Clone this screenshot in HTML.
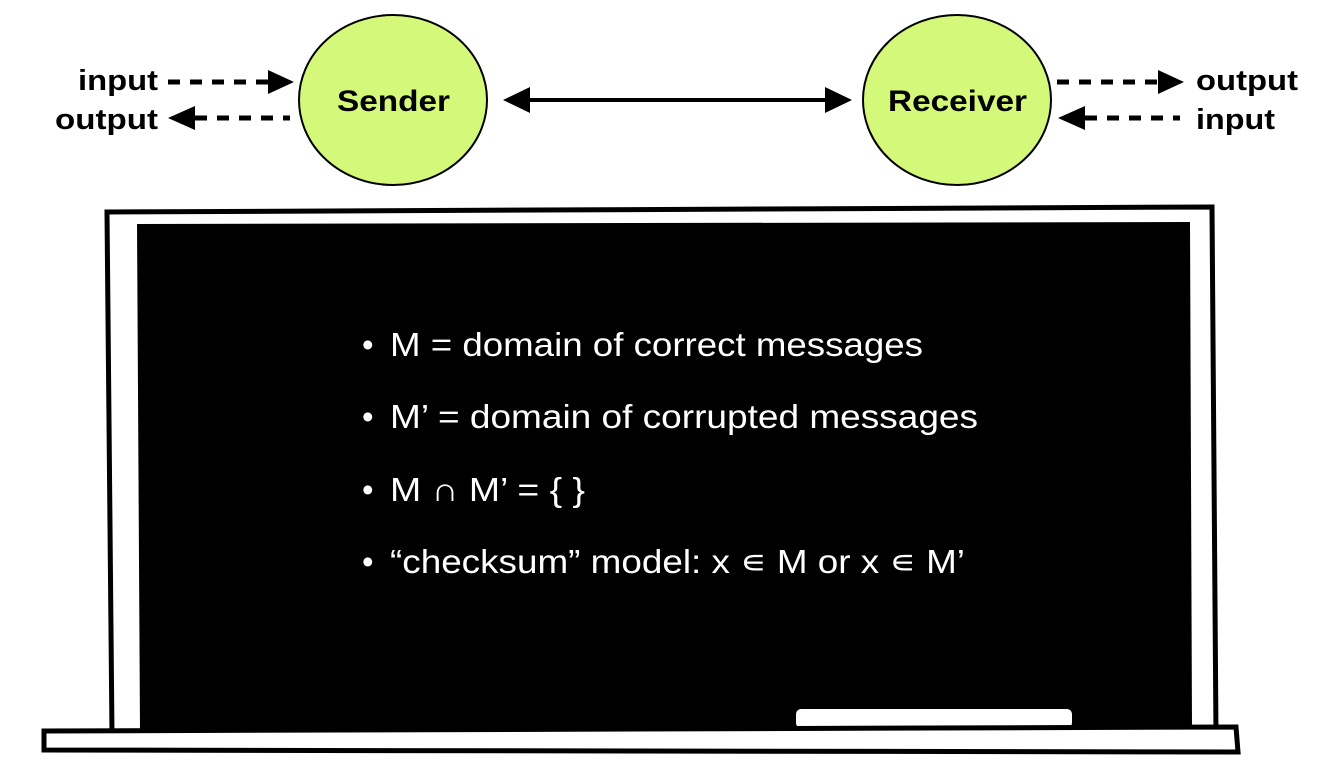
<!DOCTYPE html>
<html><head><style>
body{margin:0;width:1323px;height:777px;background:#fff;overflow:hidden;font-family:"Liberation Sans",sans-serif}
</style></head><body>
<svg width="1323" height="777" viewBox="0 0 1323 777" xmlns="http://www.w3.org/2000/svg">
<ellipse cx="393" cy="100" rx="94" ry="85" fill="#d4f97a" stroke="#000" stroke-width="2"/>
<ellipse cx="957" cy="100" rx="94" ry="85" fill="#d4f97a" stroke="#000" stroke-width="2"/>
<text x="337" y="111" font-size="30" font-weight="bold" textLength="113" lengthAdjust="spacingAndGlyphs">Sender</text>
<text x="888" y="111" font-size="30" font-weight="bold" textLength="139" lengthAdjust="spacingAndGlyphs">Receiver</text>
<line x1="525" y1="100" x2="830" y2="100" stroke="#000" stroke-width="4"/>
<polygon points="503,100 530,87 530,113" fill="#000"/>
<polygon points="852,100 825,87 825,113" fill="#000"/>
<text x="78" y="90" font-size="29" font-weight="bold" textLength="80" lengthAdjust="spacingAndGlyphs">input</text>
<text x="55" y="129" font-size="29" font-weight="bold" textLength="103" lengthAdjust="spacingAndGlyphs">output</text>
<line x1="168" y1="82" x2="268" y2="82" stroke="#000" stroke-width="5" stroke-dasharray="12,10"/>
<polygon points="294,82 268,70 268,94" fill="#000"/>
<line x1="195" y1="118" x2="290" y2="118" stroke="#000" stroke-width="5" stroke-dasharray="12,10"/>
<polygon points="168,118 195,106 195,130" fill="#000"/>
<line x1="1057" y1="82" x2="1158" y2="82" stroke="#000" stroke-width="5" stroke-dasharray="12,10"/>
<polygon points="1184,82 1158,70 1158,94" fill="#000"/>
<line x1="1085" y1="118" x2="1180" y2="118" stroke="#000" stroke-width="5" stroke-dasharray="12,10"/>
<polygon points="1058,118 1085,106 1085,130" fill="#000"/>
<text x="1196" y="90" font-size="29" font-weight="bold" textLength="102" lengthAdjust="spacingAndGlyphs">output</text>
<text x="1196" y="129" font-size="29" font-weight="bold" textLength="79" lengthAdjust="spacingAndGlyphs">input</text>
<path d="M107,212 L1212,207 L1216,735 L112,735 Z" fill="#fff" stroke="#000" stroke-width="5"/>
<path d="M137,224 L1190,222 L1192,730 L140,730 Z" fill="#000"/>
<rect x="795" y="708" width="278" height="21" rx="6" fill="#fff" stroke="#000" stroke-width="2"/>
<path d="M44,731 L1236,727 L1238,752 L44,750 Z" fill="#fff" stroke="#000" stroke-width="5"/>
<g fill="#fff" font-size="33">
<text x="362" y="356">•</text><text x="390" y="356" textLength="533" lengthAdjust="spacingAndGlyphs">M = domain of correct messages</text>
<text x="362" y="428">•</text><text x="390" y="428" textLength="588" lengthAdjust="spacingAndGlyphs">M’ = domain of corrupted messages</text>
<text x="362" y="501">•</text><text x="390" y="501" textLength="195" lengthAdjust="spacingAndGlyphs">M ∩ M’ = { }</text>
<text x="362" y="573">•</text><text x="390" y="573" textLength="575" lengthAdjust="spacingAndGlyphs">“checksum” model: x ∊ M or x ∊ M’</text>
</g>
</svg>
</body></html>
